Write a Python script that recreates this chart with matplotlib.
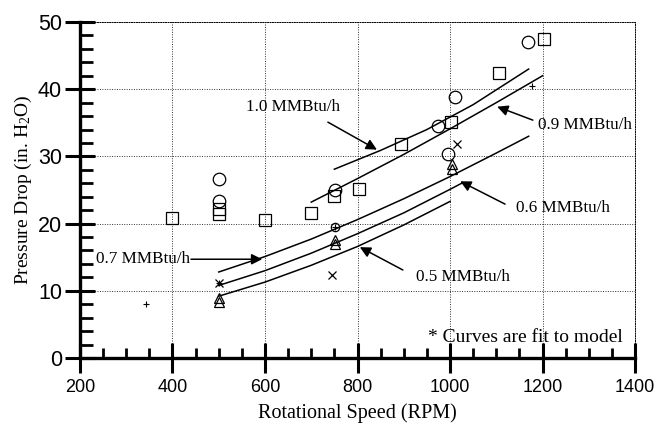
import matplotlib
matplotlib.use('Agg')
import matplotlib.pyplot as plt
import numpy as np

# Fitted model curves
rpm_10 = [750, 850, 950, 1050, 1170]
dp_10 = [28.1, 30.9, 34.0, 37.7, 43.0]
rpm_09 = [700, 800, 900, 1000, 1100, 1200]
dp_09 = [23.2, 26.7, 30.3, 34.1, 38.0, 42.0]
rpm_07 = [500, 600, 700, 800, 900, 1000, 1100, 1170]
dp_07 = [12.8, 15.1, 17.7, 20.6, 23.7, 27.0, 30.5, 33.0]
rpm_06 = [500, 600, 700, 800, 900, 1000, 1025]
dp_06 = [10.8, 13.0, 15.6, 18.5, 21.6, 25.1, 26.0]
rpm_05 = [500, 600, 700, 800, 900, 1000]
dp_05 = [9.2, 11.3, 13.8, 16.6, 19.8, 23.3]

# Measured points
sq_rpm = [400, 500, 500, 600, 700, 750, 803, 895, 1002, 1106, 1203]
sq_dp = [20.8, 22.2, 21.5, 20.5, 21.6, 24.1, 25.2, 31.8, 35.1, 42.4, 47.4]
ci_rpm = [500, 500, 751, 975, 1011, 995, 1169]
ci_dp = [26.6, 23.3, 25.0, 34.6, 38.9, 30.4, 47.0]
sm_rpm = [752]
sm_dp = [19.5]
tri_rpm = [500, 500, 752, 752, 1005, 1005]
tri_dp = [8.9, 8.4, 17.0, 17.6, 28.8, 28.2]
x_rpm = [500, 744, 1015]
x_dp = [11.2, 12.4, 31.9]
plus_rpm = [343, 1177, 752, 500]
plus_dp = [8.0, 40.5, 19.5, 11.2]

plt.rcParams['mathtext.default'] = 'regular'
serif = 'Liberation Serif'
sans = 'Liberation Sans'

fig = plt.figure(figsize=(6.54, 4.25), dpi=100)
ax = fig.add_axes([0.1223, 0.1576, 0.8487, 0.7906])

# curves
for r, d in [(rpm_10, dp_10), (rpm_09, dp_09), (rpm_07, dp_07),
             (rpm_06, dp_06), (rpm_05, dp_05)]:
    ax.plot(r, d, color='black', lw=1.1, zorder=3)

# markers
ax.plot(sq_rpm, sq_dp, 's', ms=8, mfc='none', mec='black', mew=0.9, zorder=4)
ax.plot(ci_rpm, ci_dp, 'o', ms=9, mfc='none', mec='black', mew=0.9, zorder=4)
ax.plot(sm_rpm, sm_dp, 'o', ms=6, mfc='none', mec='black', mew=0.9, zorder=4)
ax.plot(tri_rpm, tri_dp, '^', ms=7, mfc='none', mec='black', mew=0.9, zorder=4)
ax.plot(x_rpm, x_dp, 'x', ms=6, color='black', mew=0.9, zorder=4)
ax.plot(plus_rpm, plus_dp, '+', ms=5, color='black', mew=0.8, zorder=4)

ax.set_xlim(200, 1400)
ax.set_ylim(0, 50)
ax.set_xticks(np.arange(200, 1401, 200))
ax.set_xticks(np.arange(200, 1401, 50), minor=True)
ax.set_yticks(np.arange(0, 51, 10))
ax.set_yticks(np.arange(0, 51, 2), minor=True)

ax.grid(True, which='major', linestyle=(0, (1, 1.5)), color='black', lw=0.7, alpha=0.8)
for s in ['top', 'right']:
    ax.spines[s].set_linestyle((0, (1, 1.5)))
    ax.spines[s].set_linewidth(0.7)
for s in ['left', 'bottom']:
    ax.spines[s].set_linewidth(2.4)

ax.tick_params(axis='x', which='major', direction='inout', length=22, width=2.2, pad=4)
ax.tick_params(axis='x', which='minor', direction='in', length=7, width=2)
ax.tick_params(axis='y', which='major', direction='inout', length=22, width=2.2, pad=2)
ax.tick_params(axis='y', which='minor', direction='in', length=9, width=2)
ax.tick_params(top=False, right=False, which='both')

for lab in ax.get_xticklabels():
    lab.set_fontfamily(sans)
    lab.set_fontsize(13)
for lab in ax.get_yticklabels():
    lab.set_fontfamily(sans)
    lab.set_fontsize(15.5)

ax.set_xlabel('Rotational Speed (RPM)', fontfamily=serif, fontsize=14.5, labelpad=5)
ax.set_ylabel('Pressure Drop (in. H$_2$O)', fontfamily=serif, fontsize=14, labelpad=3)

# annotations
arrow = dict(arrowstyle='-|>', color='black', lw=1.1, mutation_scale=16,
             shrinkA=0, shrinkB=0)
tkw = dict(fontfamily=serif, fontsize=12.3, va='center', ha='left')
ax.text(558, 37.4, '1.0 MMBtu/h', **tkw)
ax.annotate('', xy=(842, 31.0), xytext=(736, 35.1), arrowprops=arrow)
ax.text(1190, 34.7, '0.9 MMBtu/h', **tkw)
ax.annotate('', xy=(1102, 37.4), xytext=(1179, 35.4), arrowprops=arrow)
ax.text(1143, 22.3, '0.6 MMBtu/h', **tkw)
ax.annotate('', xy=(1022, 26.3), xytext=(1119, 22.9), arrowprops=arrow)
ax.text(926, 12.05, '0.5 MMBtu/h', **tkw)
ax.annotate('', xy=(805, 16.5), xytext=(898, 13.1), arrowprops=arrow)
ax.text(235, 14.7, '0.7 MMBtu/h', **tkw)
ax.annotate('', xy=(594, 14.7), xytext=(440, 14.7), arrowprops=arrow)
ax.text(952, 3.1, '* Curves are fit to model', fontfamily=serif, fontsize=14,
        va='center', ha='left')

fig.savefig('out.png', dpi=100)
